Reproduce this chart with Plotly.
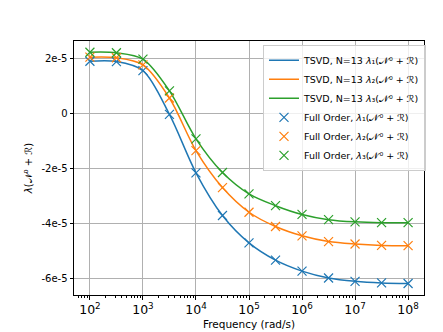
import plotly.graph_objects as go

# frequencies (rad/s), half-decade steps
freq = [1e2, 10**2.5, 1e3, 10**3.5, 1e4, 10**4.5, 1e5, 10**5.5, 1e6, 10**6.5, 1e7, 10**7.5, 1e8]

lam1 = [1.91e-5, 1.90e-5, 1.57e-5, -0.03e-5, -2.16e-5, -3.72e-5, -4.72e-5,
        -5.35e-5, -5.75e-5, -6.00e-5, -6.12e-5, -6.18e-5, -6.20e-5]
lam2 = [2.06e-5, 2.04e-5, 1.78e-5, 0.57e-5, -1.35e-5, -2.70e-5, -3.60e-5,
        -4.12e-5, -4.46e-5, -4.67e-5, -4.76e-5, -4.81e-5, -4.82e-5]
lam3 = [2.24e-5, 2.22e-5, 1.99e-5, 0.83e-5, -0.92e-5, -2.15e-5, -2.93e-5,
        -3.36e-5, -3.68e-5, -3.87e-5, -3.95e-5, -3.98e-5, -3.98e-5]

colors = ["#1f77b4", "#ff7f0e", "#2ca02c"]
sub = ["\u2081", "\u2082", "\u2083"]
op = "(\U0001D4A9\u2070 + \u211B)"

ytick_vals = [2e-5, 0, -2e-5, -4e-5, -6e-5]
ytick_text = ["2e-5", "0", "-2e-5", "-4e-5", "-6e-5"]

fig = go.Figure()

for i, lam in enumerate([lam1, lam2, lam3]):
    fig.add_trace(go.Scatter(
        x=freq, y=lam, mode="lines",
        line=dict(color=colors[i], width=1.5, shape="spline", smoothing=0.9),
        name="TSVD, N=13 <i>\u03bb</i>" + sub[i] + op
    ))

for i, lam in enumerate([lam1, lam2, lam3]):
    fig.add_trace(go.Scatter(
        x=freq, y=lam, mode="markers",
        marker=dict(symbol="x-thin-open", size=9, color=colors[i],
                    line=dict(color=colors[i], width=1.2)),
        name="Full Order, <i>\u03bb</i>" + sub[i] + op
    ))

axis_common = dict(
    showline=True, linecolor="black", linewidth=1, mirror=True,
    showgrid=True, gridcolor="#b0b0b0", gridwidth=0.8,
    ticks="outside", ticklen=3.5, tickcolor="black", zeroline=False,
)

fig.update_layout(
    width=443, height=332,
    margin=dict(l=66, r=27, t=33, b=33),
    paper_bgcolor="white", plot_bgcolor="white",
    font=dict(family="DejaVu Sans", size=10, color="black"),
    xaxis=dict(
        type="log", range=[1.7, 8.3], dtick=1, exponentformat="power",
        title=dict(text="Frequency (rad/s)", standoff=4, font=dict(size=10.5)),
        minor=dict(ticks="outside", ticklen=2, tickcolor="black", showgrid=False),
        **axis_common
    ),
    yaxis=dict(
        range=[-6.62e-5, 2.65e-5],
        tickvals=ytick_vals, ticktext=ytick_text,
        title=dict(text="<i>\u03bb</i>" + op, standoff=6, font=dict(size=10)),
        **axis_common
    ),
    legend=dict(
        x=0.54, y=0.985, xanchor="left", yanchor="top",
        bgcolor="rgba(255,255,255,0.8)", bordercolor="#cccccc", borderwidth=1,
        font=dict(size=9.5), tracegroupgap=0,
    ),
    showlegend=True,
)

fig.write_html("out.html")
